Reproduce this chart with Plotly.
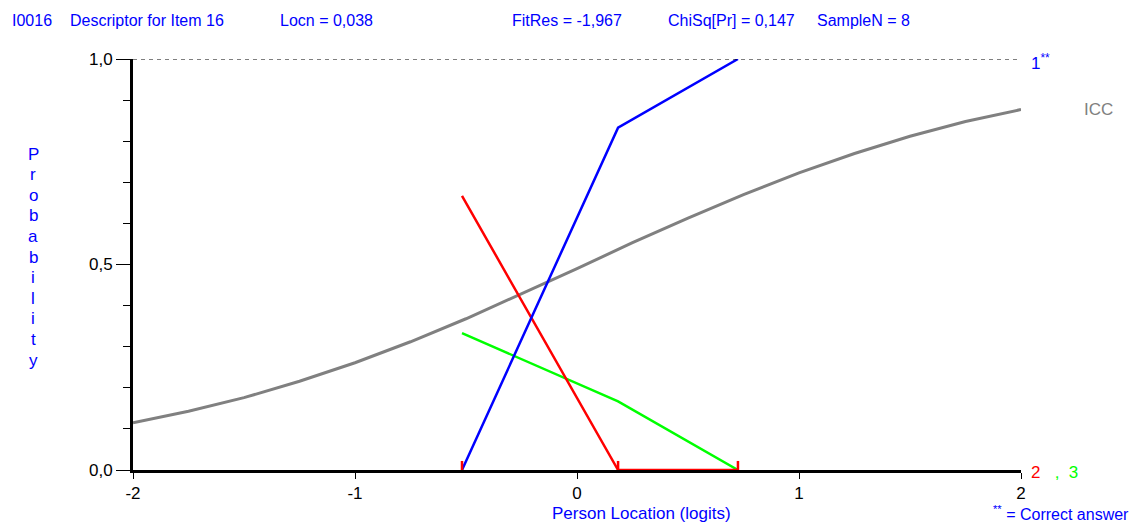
import plotly.graph_objects as go

# ---- data ----
class_means = [-0.518, 0.185, 0.725]
obs_cat1 = [0.0, 0.833, 1.0]      # correct answer (blue)
obs_cat2 = [0.667, 0.0, 0.0]      # red
obs_cat3 = [0.333, 0.167, 0.0]    # green

icc_x = [-2.0, -1.75, -1.5, -1.25, -1.0, -0.75, -0.5, -0.25, 0.0,
         0.25, 0.5, 0.75, 1.0, 1.25, 1.5, 1.75, 2.0]
icc_y = [0.115, 0.143, 0.176, 0.216, 0.261, 0.312, 0.368, 0.428, 0.490,
         0.553, 0.613, 0.670, 0.723, 0.770, 0.812, 0.848, 0.877]

x_ticks = [-2, -1, 0, 1, 2]
x_labels = ["-2", "-1", "0", "1", "2"]
y_ticks = [0, 0.5, 1.0]
y_labels = ["0,0", "0,5", "1,0"]

header_parts = ["I0016", "Descriptor for Item 16", "Locn = 0,038",
                "FitRes = -1,967", "ChiSq[Pr] = 0,147", "SampleN = 8"]
header_lefts = [10, 68, 278, 510, 666, 815]

BLUE = "#0000FF"
RED = "#FF0000"
GREEN = "#00FF00"
GRAY = "#808080"
FONT = "Liberation Sans"
FS = 17

OFF = 8  # default body margin of the html page
W, H = 1142 - OFF, 526 - OFF
ML, MR, MT, MB = 133 - OFF, 121, 59 - OFF, 56
PW = W - ML - MR
PH = H - MT - MB

def px(xp):
    return (xp - OFF - ML) / PW

def py(yp):
    return (H - MB - (yp - OFF)) / PH

fig = go.Figure()

fig.add_trace(go.Scatter(x=icc_x, y=icc_y, mode="lines",
                         line=dict(color=GRAY, width=3), cliponaxis=False))
fig.add_trace(go.Scatter(x=class_means, y=obs_cat3, mode="lines",
                         line=dict(color=GREEN, width=2.5), cliponaxis=False))
fig.add_trace(go.Scatter(x=class_means, y=obs_cat2, mode="lines",
                         line=dict(color=RED, width=2.5), cliponaxis=False))
fig.add_trace(go.Scatter(x=class_means, y=obs_cat1, mode="lines",
                         line=dict(color=BLUE, width=2.5), cliponaxis=False))

shapes = []
shapes.append(dict(type="line", xref="x", yref="y", x0=x_ticks[0], x1=x_ticks[-1],
                   y0=1.0, y1=1.0, line=dict(color="black", width=1, dash="4px,4px")))
for cm in class_means:
    shapes.append(dict(type="line", xref="x", yref="y", x0=cm, x1=cm,
                       y0=0, y1=0.022, line=dict(color=RED, width=2.5)))

def ann(text, xp, yp, color, xanchor="left", size=FS):
    return dict(text=text, xref="paper", yref="paper", x=px(xp), y=py(yp),
                xanchor=xanchor, yanchor="middle", showarrow=False,
                font=dict(family=FONT, size=size, color=color))

annotations = []
for t, xl in zip(header_parts, header_lefts):
    annotations.append(ann(t, xl, 21, BLUE, size=16))
annotations.append(ann("1<sup>**</sup>", 1029, 62, BLUE))
annotations.append(ann("ICC", 1082, 110, GRAY))
annotations.append(ann('<span style="color:#FF0000">2</span>\u00a0\u00a0\u00a0<span style="color:#00FF00">,\u00a0\u00a03</span>',
                       1029, 472, RED))
annotations.append(ann("Person Location (logits)", 641, 513, BLUE, xanchor="center"))
annotations.append(ann("<sup>**</sup> = Correct answer", 1131, 513, BLUE, xanchor="right", size=16))
for i, ch in enumerate("Probability"):
    annotations.append(ann(ch, 33, 154 + i * 20.6, BLUE, xanchor="center"))

fig.update_layout(
    width=W, height=H,
    margin=dict(l=ML, r=MR, t=MT, b=MB, pad=0),
    paper_bgcolor="white", plot_bgcolor="white",
    showlegend=False,
    shapes=shapes, annotations=annotations,
    xaxis=dict(range=[-2, 2], tickvals=x_ticks, ticktext=x_labels,
               showgrid=False, zeroline=False, showline=True,
               linecolor="black", linewidth=3, ticks="outside", ticklen=6,
               tickcolor="black", tickwidth=1,
               tickfont=dict(family=FONT, size=FS, color="black"), fixedrange=True),
    yaxis=dict(range=[0, 1], tickvals=y_ticks, ticktext=y_labels,
               showgrid=False, zeroline=False, showline=True,
               linecolor="black", linewidth=3, ticks="outside", ticklen=14,
               tickcolor="black", tickwidth=1,
               minor=dict(dtick=0.1, ticks="outside", ticklen=7, tickcolor="black",
                          tickwidth=1, showgrid=False),
               tickfont=dict(family=FONT, size=FS, color="black"), fixedrange=True),
)

fig.write_html("out.html")
